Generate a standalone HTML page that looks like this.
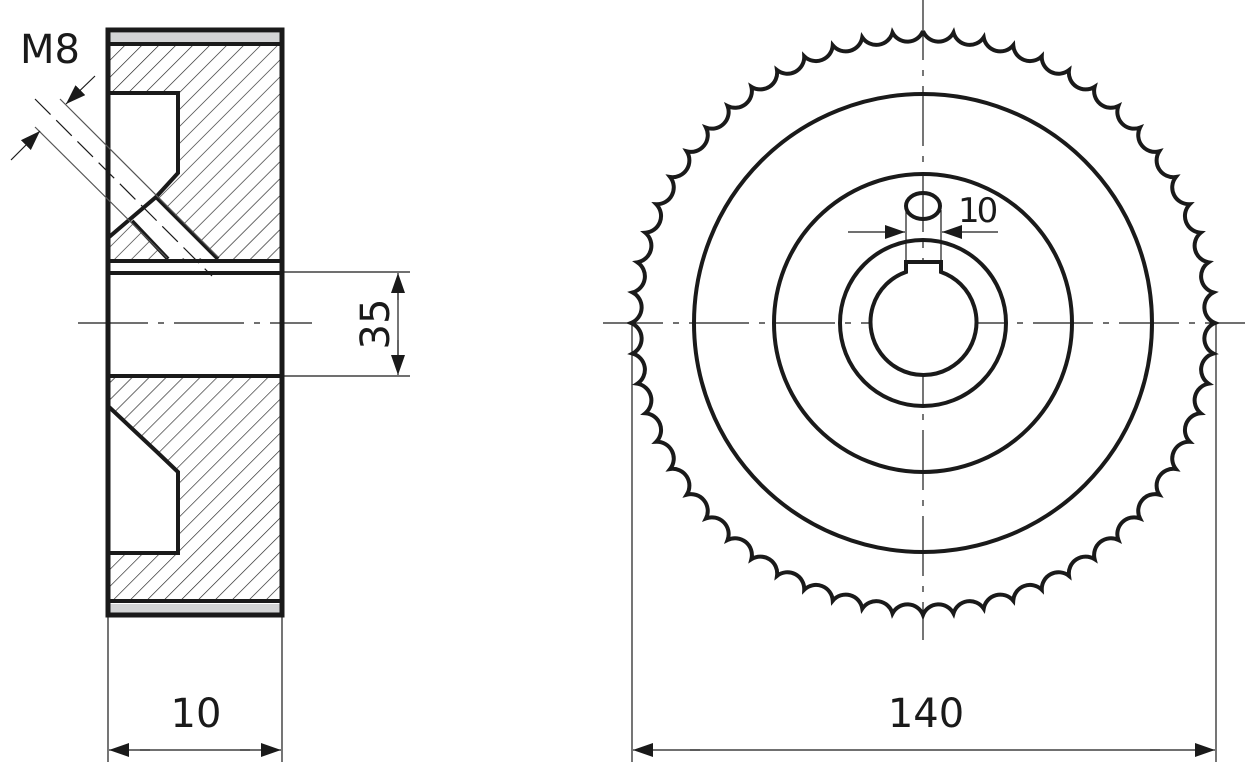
<!DOCTYPE html>
<html><head><meta charset="utf-8"><style>
html,body{margin:0;padding:0;background:#fff}
svg{display:block}
text{font-family:"DejaVu Sans","Liberation Sans",sans-serif;fill:#1a1a1a}
</style></head><body>
<svg width="1254" height="765" viewBox="0 0 1254 765" xmlns="http://www.w3.org/2000/svg">
<defs>
<pattern id="h" patternUnits="userSpaceOnUse" width="12" height="12" patternTransform="rotate(45)">
<line x1="0" y1="0" x2="0" y2="12" stroke="#222" stroke-width="1.3"/>
</pattern>
<marker id="a" viewBox="0 0 20 14" refX="20" refY="7" markerWidth="20" markerHeight="14" markerUnits="userSpaceOnUse" orient="auto"><path d="M0,0L20,7L0,14z" fill="#1a1a1a"/></marker>
</defs>
<g stroke="#1a1a1a" fill="none">
<rect x="108" y="45" width="174" height="217" fill="url(#h)" stroke="none"/>
<rect x="108" y="376" width="174" height="225" fill="url(#h)" stroke="none"/>
<rect x="108" y="33" width="174" height="10" fill="#d3d4d5" stroke="none"/>
<rect x="108" y="604" width="174" height="9" fill="#d3d4d5" stroke="none"/>
<polygon points="108,93 178,93 178,173 156,197 218,258 168,258 132,221 108,238" fill="#fff" stroke="none"/>
<polyline points="108,93 178,93 178,173 156,197 108,238" stroke-width="4"/>
<line x1="132" y1="221" x2="168" y2="259" stroke-width="4"/>
<line x1="156" y1="197" x2="218" y2="259" stroke-width="4"/>
<polygon points="108,406 156,452 178,470 178,553 108,553" fill="#fff" stroke="none"/>
<polyline points="108,406 157,452 178,472 178,553 108,553" stroke-width="4"/>
<rect x="108" y="30" width="174" height="585" stroke-width="5"/>
<line x1="108" y1="44" x2="282" y2="44" stroke-width="4"/>
<line x1="108" y1="261" x2="282" y2="261" stroke-width="4"/>
<line x1="108" y1="273" x2="282" y2="273" stroke-width="4"/>
<line x1="108" y1="376" x2="282" y2="376" stroke-width="4"/>
<line x1="108" y1="601" x2="282" y2="601" stroke-width="4"/>
<g stroke-width="1.2">
<line x1="60" y1="99" x2="218" y2="257" stroke="#555"/>
<line x1="35" y1="127" x2="167" y2="258" stroke="#555"/>
<line x1="35" y1="99" x2="212" y2="276" stroke-dasharray="22,8"/>
<line x1="95" y1="76" x2="66" y2="104" marker-end="url(#a)"/>
<line x1="11" y1="160" x2="40" y2="131" marker-end="url(#a)"/>
<line x1="78" y1="323" x2="312" y2="323" stroke-dasharray="70,10,6,10"/>
<line x1="282" y1="272" x2="410" y2="272"/>
<line x1="282" y1="376" x2="410" y2="376"/>
<line x1="398" y1="300" x2="398" y2="273" marker-end="url(#a)"/>
<line x1="398" y1="340" x2="398" y2="375" marker-end="url(#a)"/>
<line x1="398" y1="290" x2="398" y2="360"/>
<line x1="108" y1="615" x2="108" y2="762"/>
<line x1="282" y1="615" x2="282" y2="762"/>
<line x1="150" y1="750" x2="109" y2="750" marker-end="url(#a)"/>
<line x1="240" y1="750" x2="281" y2="750" marker-end="url(#a)"/>
<line x1="140" y1="750" x2="250" y2="750"/>
</g>
<g stroke-width="1.2">
<line x1="603" y1="323" x2="1245" y2="323" stroke-dasharray="60,10,6,10"/>
<line x1="923" y1="0" x2="923" y2="640" stroke-dasharray="60,10,6,10"/>
<line x1="632" y1="323" x2="632" y2="762"/>
<line x1="1216" y1="323" x2="1216" y2="762"/>
<line x1="700" y1="750" x2="633" y2="750" marker-end="url(#a)"/>
<line x1="1150" y1="750" x2="1215" y2="750" marker-end="url(#a)"/>
<line x1="690" y1="750" x2="1160" y2="750"/>
<line x1="906" y1="210" x2="906" y2="272"/>
<line x1="941" y1="210" x2="941" y2="272"/>
<line x1="848" y1="232" x2="905" y2="232" marker-end="url(#a)"/>
<line x1="998" y1="232" x2="942" y2="232" marker-end="url(#a)"/>
</g>
<circle cx="923" cy="323" r="229" stroke-width="4"/>
<circle cx="923" cy="323" r="149" stroke-width="4"/>
<circle cx="923" cy="323" r="83" stroke-width="4"/>
<ellipse cx="923" cy="206" rx="17" ry="13" stroke-width="4"/>
<path d="M906,262 L941,262 L941,272 A53,53 0 1 1 906,272 Z" stroke-width="4" fill="#fff"/>
<path id="k" stroke-width="4" d=""/>
</g>
<text x="20" y="63" font-size="40">M8</text>
<text x="378" y="324" font-size="40" transform="rotate(-90 378 324)" text-anchor="middle" dominant-baseline="middle">35</text>
<text x="196" y="727" font-size="40" text-anchor="middle">10</text>
<text x="926" y="727" font-size="40" text-anchor="middle">140</text>
<text x="958" y="222" font-size="34" letter-spacing="-3">10</text>
<script>
(function(){var n=60,R=292,cx=923,cy=323,r=16.8,d="";
for(var i=0;i<=n;i++){var t=-Math.PI/2+i*2*Math.PI/n;var x=(cx+R*Math.cos(t)).toFixed(2),y=(cy+R*Math.sin(t)).toFixed(2);
d+=(i==0?"M"+x+","+y:" A"+r+","+r+" 0 0 0 "+x+","+y);}
document.getElementById("k").setAttribute("d",d);})();
</script>
</svg>
</body></html>
